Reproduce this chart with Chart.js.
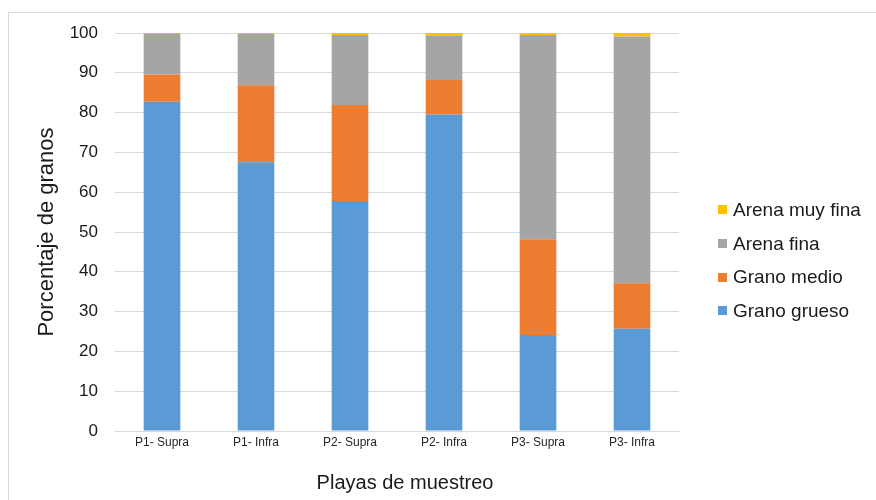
<!DOCTYPE html>
<html>
<head>
<meta charset="utf-8">
<script src="https://cdn.jsdelivr.net/npm/chart.js@4/dist/chart.umd.min.js"></script>
<style>
  html, body { margin: 0; padding: 0; background: #fff; }
  #wrap { position: relative; width: 876px; height: 500px; overflow: hidden; }
  #frame { position: absolute; left: 8px; top: 12px; width: 900px; height: 600px; border-left: 1px solid #d9d9d9; border-top: 1px solid #d9d9d9; box-sizing: border-box; }
  canvas { position: absolute; left: 0; top: 0; }
  #legend { position: absolute; left: 718px; top: 193px; font-family: "Liberation Sans", Arial, sans-serif; font-size: 19px; color: #1a1a1a; }
  .item { height: 33.7px; display: flex; align-items: center; white-space: nowrap; }
  .box { width: 9px; height: 9px; margin-right: 6px; }
</style>
</head>
<body>
<div id="wrap">
  <div id="frame"></div>
  <canvas id="c" width="876" height="500"></canvas>
  <div id="legend"></div>
</div>
<script>
const categories = ["P1- Supra", "P1- Infra", "P2- Supra", "P2- Infra", "P3- Supra", "P3- Infra"];
const granoGrueso   = [82.7, 67.5, 57.8, 79.5, 24.1, 25.7];
const granoMedio    = [6.9, 19.4, 24.1, 8.7, 24.1, 11.4];
const arenaFina     = [10.2, 12.9, 17.6, 11.2, 51.3, 62.0];
const arenaMuyFina  = [0.2, 0.2, 0.5, 0.6, 0.5, 0.9];
const seriesNames   = ["Grano grueso", "Grano medio", "Arena fina", "Arena muy fina"];
const seriesColors  = ["#5B9BD5", "#ED7D31", "#A5A5A5", "#FFC000"];
const yTicks        = [0, 10, 20, 30, 40, 50, 60, 70, 80, 90, 100];
const xTitle        = "Playas de muestreo";

const seriesData = [granoGrueso, granoMedio, arenaFina, arenaMuyFina];
const datasets = seriesNames.map((name, i) => ({
  label: name,
  data: seriesData[i],
  backgroundColor: seriesColors[i],
  borderWidth: 0,
  barPercentage: 0.39,
  categoryPercentage: 1.0
}));

const xTitlePlugin = {
  id: 'xTitlePlugin',
  afterDraw(chart) {
    const ctx = chart.ctx;
    const xs = chart.scales.x;
    ctx.save();
    ctx.font = '20px "Liberation Sans", Arial';
    ctx.fillStyle = '#1a1a1a';
    ctx.textAlign = 'center';
    ctx.textBaseline = 'middle';
    ctx.fillText(xTitle, (xs.left + xs.right) / 2 + 8, xs.bottom - 17);
    ctx.restore();
  }
};

new Chart(document.getElementById('c'), {
  type: 'bar',
  data: { labels: categories, datasets },
  plugins: [xTitlePlugin],
  options: {
    responsive: false,
    animation: false,
    layout: { padding: { left: 0, right: 197, top: 33, bottom: 0 } },
    plugins: { legend: { display: false }, tooltip: { enabled: false } },
    scales: {
      x: {
        stacked: true,
        grid: { display: false, drawTicks: false },
        border: { display: true, color: '#d9d9d9', width: 1 },
        ticks: {
          color: '#262626',
          padding: 4,
          maxRotation: 0,
          font: { family: '"Liberation Sans", Arial', size: 12 }
        },
        title: { display: false },
        afterFit: (s) => { s.height = 69; }
      },
      y: {
        stacked: true,
        min: 0,
        max: 100,
        afterBuildTicks: (s) => { s.ticks = yTicks.map(v => ({ value: v })); },
        grid: { color: '#d9d9d9', lineWidth: 1, drawTicks: false },
        border: { display: false },
        ticks: {
          color: '#1a1a1a',
          padding: 17,
          font: { family: '"Liberation Sans", Arial', size: 17 }
        },
        title: {
          display: true,
          text: 'Porcentaje de granos',
          color: '#1a1a1a',
          font: { family: '"Liberation Sans", Arial', size: 22 },
          padding: { top: 34, bottom: 0 }
        },
        afterFit: (s) => { s.width = 115; }
      }
    }
  }
});

const legend = document.getElementById('legend');
for (let i = seriesNames.length - 1; i >= 0; i--) {
  const it = document.createElement('div');
  it.className = 'item';
  const b = document.createElement('span');
  b.className = 'box';
  b.style.background = seriesColors[i];
  const t = document.createElement('span');
  t.textContent = seriesNames[i];
  it.appendChild(b); it.appendChild(t);
  legend.appendChild(it);
}
</script>
</body>
</html>
